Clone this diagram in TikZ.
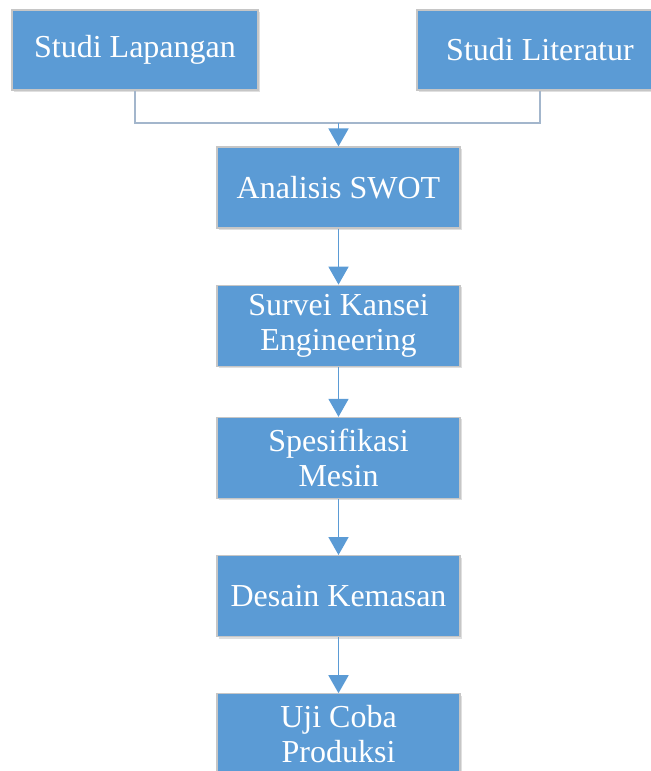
\documentclass[tikz,border=0pt]{standalone}
\usepackage{fontspec}
\setmainfont{Liberation Serif}
\usetikzlibrary{arrows.meta, positioning, shadows}
\definecolor{boxblue}{HTML}{5B9BD5}
\definecolor{linkgray}{HTML}{A3B6CC}

\begin{document}
\begin{tikzpicture}[
    x=0.5pt, y=-0.5pt,
    blk/.style={rectangle, draw=gray!45, line width=0.6pt, fill=boxblue, text=white,
               align=center, font=\fontsize{16}{17.5}\selectfont, inner sep=2pt,
               minimum width=121.5pt, minimum height=40.5pt,
               drop shadow={opacity=0.25, shadow xshift=1pt, shadow yshift=-1pt}},
    jn/.style={draw=linkgray, line width=1.4pt},
    lnk/.style={-{Triangle[width=10pt, length=9pt]}, draw=boxblue, line width=0.9pt},
]
\useasboundingbox (0,0) rectangle (651,771);

% Sources
\node[blk, minimum width=123pt, minimum height=40pt] (lap) at (135,50) {Studi Lapangan};
\node[blk, minimum width=123pt, minimum height=40pt] (lit) at (540,50) {Studi Literatur};

% Main column
\node[blk] (swot) at (338.5,187.5) {Analisis SWOT};
\node[blk, below=28pt of swot] (kan)  {Survei Kansei\\Engineering};
\node[blk, below=25pt of kan]  (spek) {Spesifikasi\\Mesin};
\node[blk, below=28pt of spek] (kms)  {Desain Kemasan};
\node[blk, below=28pt of kms]  (uji)  {Uji Coba\\Produksi};

% Joint of sources
\coordinate (jt) at (swot.north |- 0,123);
\draw[jn] (lap.south) |- (jt) -| (lit.south);
\draw[lnk] (jt) -- (swot.north);

% Arrows main column
\draw[lnk] (swot) -- (kan);
\draw[lnk] (kan) -- (spek);
\draw[lnk] (spek) -- (kms);
\draw[lnk] (kms) -- (uji);
\end{tikzpicture}
\end{document}
